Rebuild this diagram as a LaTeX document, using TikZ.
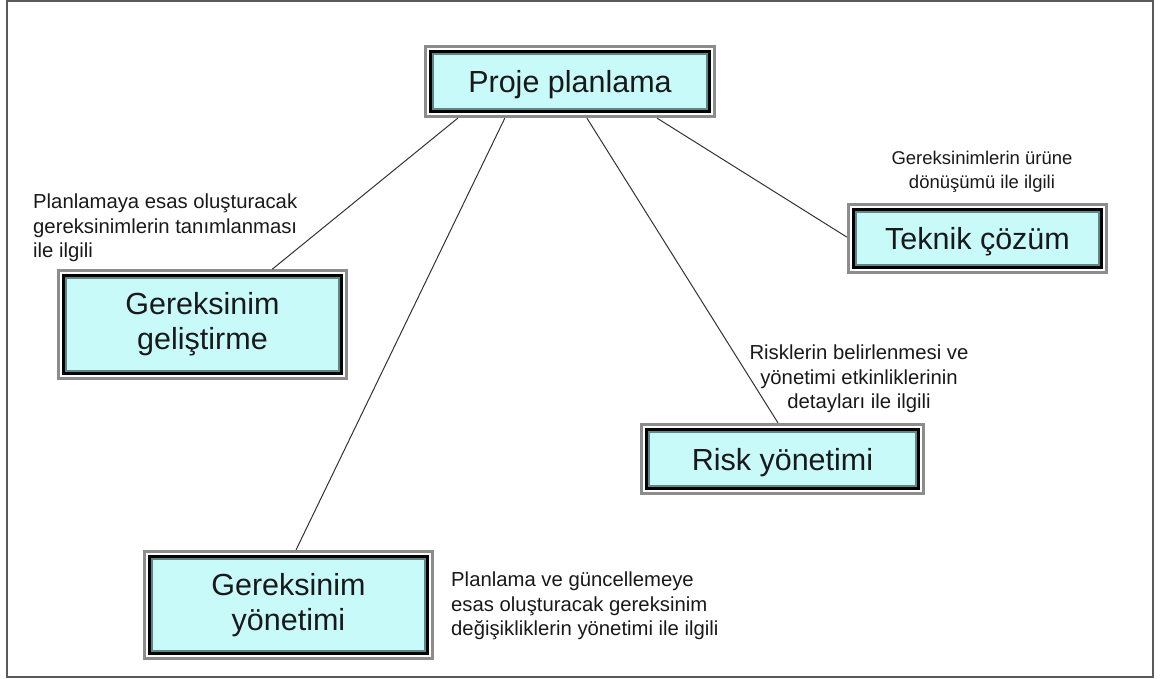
\documentclass[tikz,border=0pt]{standalone}
\usepackage{fontspec}
\setmainfont{Liberation Sans}
\usetikzlibrary{calc,backgrounds}
\definecolor{boxfill}{RGB}{200,250,250}
\definecolor{rimgray}{RGB}{140,140,140}
\definecolor{innerrim}{RGB}{95,135,135}
\definecolor{framegray}{RGB}{90,90,90}
\definecolor{inktext}{RGB}{25,25,25}
\begin{document}
\begin{tikzpicture}[x=1pt,y=-1pt,
  boxnode/.style={rectangle, inner sep=0pt, align=center, text=inktext,
    font=\fontsize{30.5}{35}\selectfont},
  oneline/.style={text depth=0pt},
  note/.style={inner sep=0pt, text=inktext, font=\fontsize{20.3}{24.5}\selectfont},
  link/.style={draw=black!80, line width=1pt}]
\useasboundingbox (0,0) rectangle (1163,678);
% outer frame
\draw[framegray, line width=1.5pt] (7,1) rectangle (1153,677);

% boxes
\node[boxnode, oneline, minimum width=292pt, minimum height=73pt] (proje) at (570,81.5) {Proje planlama};
\node[boxnode, minimum width=291pt, minimum height=110pt] (gel) at (202.5,324.5) {Gereksinim\\geliştirme};
\node[boxnode, minimum width=291pt, minimum height=110pt] (yon) at (288.5,605) {Gereksinim\\yönetimi};
\node[boxnode, oneline, minimum width=261pt, minimum height=71pt] (tek) at (977.5,238.5) {Teknik çözüm};
\node[boxnode, oneline, minimum width=285pt, minimum height=72pt] (risk) at (782.5,459) {Risk yönetimi};

% framed look of each box: grey rim, white gap, black band, teal rim, cyan face
\begin{scope}[on background layer]
\foreach \n in {proje,gel,yon,tek,risk}{
  \fill[white] (\n.north west) rectangle (\n.south east);
  \draw[rimgray, line width=3pt] ([shift={(1.5,1.5)}]\n.north west) rectangle ([shift={(-1.5,-1.5)}]\n.south east);
  \draw[black, line width=3pt] ([shift={(6.5,6.5)}]\n.north west) rectangle ([shift={(-6.5,-6.5)}]\n.south east);
  \fill[boxfill] ([shift={(8,8)}]\n.north west) rectangle ([shift={(-8,-8)}]\n.south east);
  \draw[innerrim, line width=2pt] ([shift={(9,9)}]\n.north west) rectangle ([shift={(-9,-9)}]\n.south east);
}
\end{scope}

% connectors
\draw[link] ($(proje.south west)!0.116!(proje.south east)$) -- ($(gel.north west)!0.739!(gel.north east)$);
\draw[link] ($(proje.south west)!0.277!(proje.south east)$) -- ($(yon.north west)!0.526!(yon.north east)$);
\draw[link] ($(proje.south west)!0.558!(proje.south east)$) -- ($(risk.north west)!0.484!(risk.north east)$);
\draw[link] ($(proje.south west)!0.798!(proje.south east)$) -- ($(tek.north west)!0.48!(tek.south west)$);

% annotations
\node[note, anchor=west, align=left] (n1) at (33,228) {Planlamaya esas oluşturacak\\gereksinimlerin tanımlanması\\ile ilgili};
\node[note, align=center, font=\fontsize{18.5}{24}\selectfont] (n2) at (982,172) {Gereksinimlerin ürüne\\dönüşümü ile ilgili};
\node[note, align=center] (n3) at (859,379) {Risklerin belirlenmesi ve\\yönetimi etkinliklerinin\\detayları ile ilgili};
\node[note, anchor=west, align=left] (n4) at (451,606) {Planlama ve güncellemeye\\esas oluşturacak gereksinim\\değişikliklerin yönetimi ile ilgili};
\end{tikzpicture}
\end{document}
